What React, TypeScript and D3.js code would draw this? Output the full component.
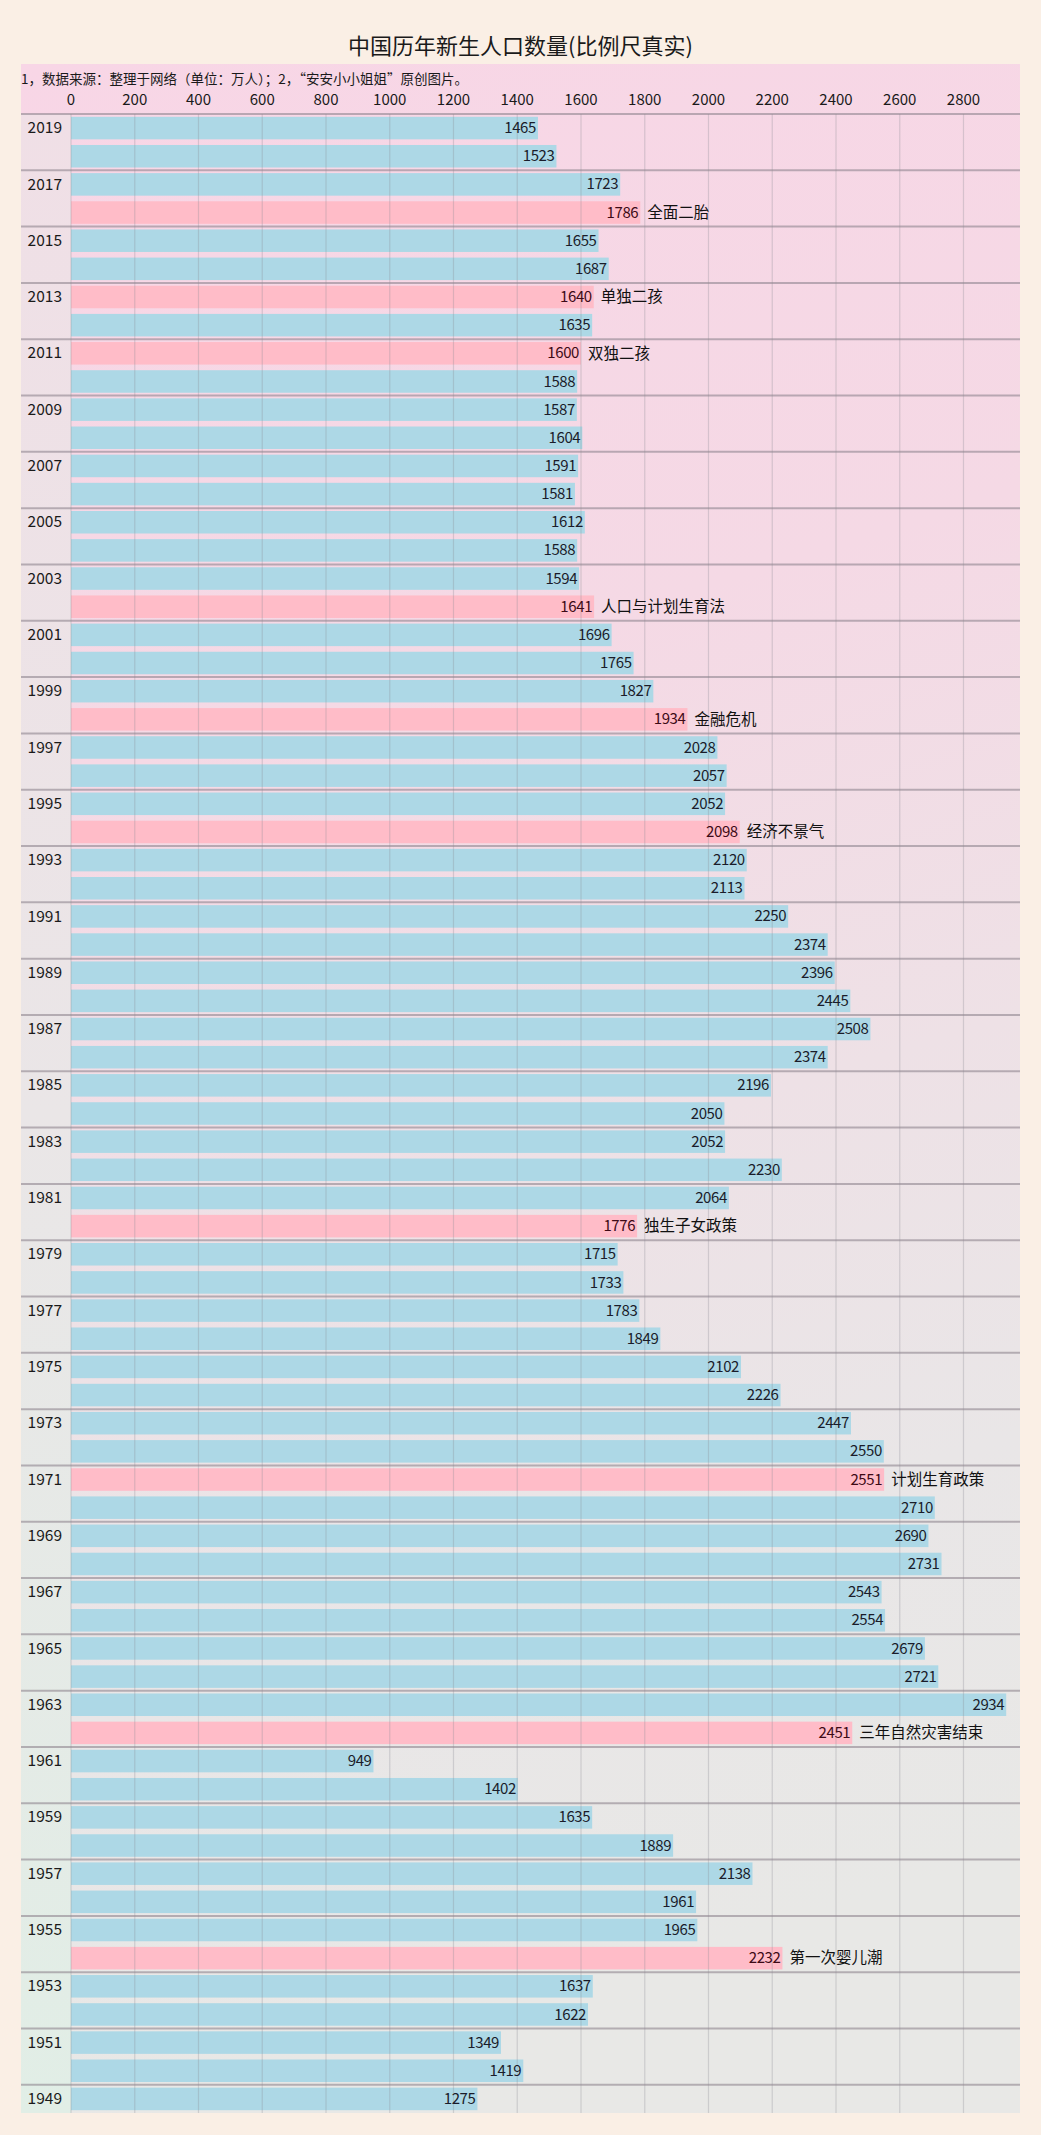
import * as d3 from "d3";
import { useMemo } from "react";

// 年份 2019 -> 1949,每年一根柱
const years = d3.range(2019, 1948, -1);
const births = [
  1465, 1523, 1723, 1786, 1655, 1687, 1640, 1635, 1600, 1588,
  1587, 1604, 1591, 1581, 1612, 1588, 1594, 1641, 1696, 1765,
  1827, 1934, 2028, 2057, 2052, 2098, 2120, 2113, 2250, 2374,
  2396, 2445, 2508, 2374, 2196, 2050, 2052, 2230, 2064, 1776,
  1715, 1733, 1783, 1849, 2102, 2226, 2447, 2550, 2551, 2710,
  2690, 2731, 2543, 2554, 2679, 2721, 2934, 2451, 949, 1402,
  1635, 1889, 2138, 1961, 1965, 2232, 1637, 1622, 1349, 1419,
  1275,
];
// 标注的年份(粉色)
const eventYears = [2016, 2013, 2011, 2002, 1998, 1994, 1980, 1971, 1962, 1954];
const eventNotes = [
  "全面二胎", "单独二孩", "双独二孩", "人口与计划生育法", "金融危机",
  "经济不景气", "独生子女政策", "计划生育政策", "三年自然灾害结束", "第一次婴儿潮",
];
const xTicks = d3.range(0, 2801, 200);

const W = 1041;
const H = 2135;
const PANEL = { left: 21, right: 1020, top: 64, bottom: 2113 };
const PLOT = { left: 71, top: 114 };
const FONT = "'Noto Sans CJK SC', 'Noto Sans', sans-serif";

function BirthChart() {
  const data = years.map((y, i) => {
    const k = eventYears.indexOf(y);
    return { year: y, value: births[i], note: k >= 0 ? eventNotes[k] : null };
  });

  const xScale = useMemo(
    () => d3.scaleLinear().domain([0, (PANEL.right - PLOT.left) / 0.31875]).range([PLOT.left, PANEL.right]),
    []
  );
  const yScale = useMemo(
    () =>
      d3.scaleBand<number>()
        .domain(years)
        .range([PLOT.top, PANEL.bottom])
        .paddingInner(0.2)
        .paddingOuter(0.1),
    []
  );
  const step = yScale.step();
  const slotTop = (y: number) => PLOT.top + years.indexOf(y) * step;
  const groupYears = years.filter((y) => (2019 - y) % 2 === 0);

  return (
    <svg width={W} height={H} style={{ position: "absolute", left: 0, top: 0, display: "block" }} fontFamily={FONT}>
      <defs>
        <linearGradient id="panelBg" x1="0" y1="0" x2="0.15" y2="1">
          <stop offset="0" stopColor="#f8d6e6" />
          <stop offset="0.35" stopColor="#f5d9e5" />
          <stop offset="0.6" stopColor="#eee1e6" />
          <stop offset="0.8" stopColor="#e9e6e7" />
          <stop offset="1" stopColor="#e8e8e6" />
        </linearGradient>
        <linearGradient id="leftBg" x1="0" y1="0" x2="0" y2="1">
          <stop offset="0" stopColor="#f0dfe6" />
          <stop offset="0.5" stopColor="#eae6e7" />
          <stop offset="1" stopColor="#e1eee6" />
        </linearGradient>
      </defs>
      <rect x={0} y={0} width={W} height={H} fill="#faefe5" />
      <rect x={PANEL.left} y={PANEL.top} width={PANEL.right - PANEL.left} height={PANEL.bottom - PANEL.top} fill="url(#panelBg)" />
      <rect x={PANEL.left} y={PLOT.top} width={PLOT.left - PANEL.left} height={PANEL.bottom - PLOT.top} fill="url(#leftBg)" />

      <text x={W / 2} y={48} textAnchor="middle" dominantBaseline="middle" fontSize={22} fill="#1a1a1a">
        中国历年新生人口数量(比例尺真实)
      </text>
      <text x={PANEL.left} y={80} dominantBaseline="middle" fontSize={13.5} fill="#1a1a1a">
        1，数据来源：整理于网络（单位：万人）；2，“安安小小姐姐”原创图片。
      </text>

      {xTicks.map((t) => (
        <text key={t} x={xScale(t)} y={101} textAnchor="middle" dominantBaseline="middle" fontSize={15} fill="#1a1a1a">
          {t}
        </text>
      ))}

      {/* bars */}
      {data.map((d) => (
        <rect
          key={d.year}
          x={xScale(0)}
          y={yScale(d.year)}
          width={xScale(d.value) - xScale(0)}
          height={yScale.bandwidth()}
          fill={d.note ? "#ffbcc8" : "#add8e6"}
        />
      ))}

      {/* vertical grid */}
      {xTicks.map((t) => (
        <line key={t} x1={xScale(t)} x2={xScale(t)} y1={PLOT.top} y2={PANEL.bottom} stroke="#8c8a96" strokeOpacity={0.3} strokeWidth={1.2} />
      ))}

      {/* group separators */}
      {groupYears.map((y) => (
        <g key={y}>
          <line x1={PANEL.left} x2={PANEL.right} y1={slotTop(y)} y2={slotTop(y)} stroke="#8f8690" strokeOpacity={0.6} strokeWidth={2} />
          <text x={62} y={slotTop(y) + 15} textAnchor="end" dominantBaseline="middle" fontSize={15.5} fill="#1a1a1a">
            {y}
          </text>
        </g>
      ))}

      {/* labels */}
      {data.map((d) => {
        const cy = (yScale(d.year) ?? 0) + yScale.bandwidth() / 2 + 1;
        const xe = xScale(d.value);
        return (
          <g key={d.year}>
            <text x={xe - 2} y={cy} textAnchor="end" dominantBaseline="middle" fontSize={15} letterSpacing={-0.4} fill={d.note ? "#3d0a16" : "#1a1c2a"}>
              {d.value}
            </text>
            {d.note && (
              <text x={xe + 7} y={cy} dominantBaseline="middle" fontSize={15.5} fill="#111">
                {d.note}
              </text>
            )}
          </g>
        );
      })}
    </svg>
  );
}

export default function App() {
  return (
    <div>
      <BirthChart />
    </div>
  );
}
